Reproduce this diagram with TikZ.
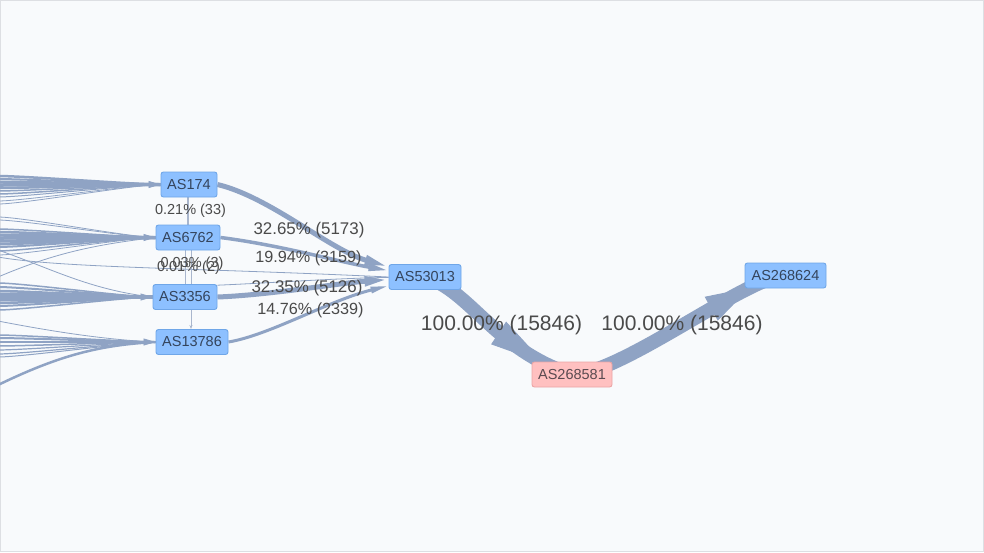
\documentclass[tikz,border=0pt]{standalone}
\usepackage{fontspec}
\setmainfont{Liberation Sans}
\usepackage{tikz}
\usetikzlibrary{arrows.meta, backgrounds}

\definecolor{canvascol}{HTML}{F8FAFC}
\definecolor{framecol}{HTML}{DDDFE3}
\definecolor{linkcol}{HTML}{8FA3C4}
\definecolor{vlinkcol}{HTML}{A9B6CD}
\definecolor{ascol}{HTML}{8DC0FF}
\definecolor{asline}{HTML}{6FA6E8}
\definecolor{pincol}{HTML}{FFC0C0}
\definecolor{pinline}{HTML}{EBA5A5}
\definecolor{textcol}{HTML}{4A4A4A}
\definecolor{astext}{HTML}{34445C}
\definecolor{pintext}{HTML}{5A4A50}

\tikzset{
	asnode/.style={draw=asline, fill=ascol, rounded corners=2.5pt, line width=.9pt, inner sep=0pt,
		minimum height=25pt, text=astext, font=\fontsize{14.5}{16}\selectfont},
	endnode/.style={asnode, draw=pinline, fill=pincol, text=pintext},
	link/.style={draw=linkcol, line width=.8pt},
	vlink/.style={draw=vlinkcol, line width=1pt},
	flowhead/.style={link, line width=1pt, -{Triangle[length=#1, width=27pt]}},
	pct/.style={text=textcol, inner sep=0pt, font=\fontsize{14.5}{16}\selectfont},
	midpct/.style={pct, font=\fontsize{16.2}{18}\selectfont},
	widepct/.style={pct, font=\fontsize{16.9}{19}\selectfont},
	bigpct/.style={pct, font=\fontsize{21}{24}\selectfont}
}

\begin{document}
\begin{tikzpicture}[x=1pt, y=-1pt]
	\useasboundingbox (0,0) rectangle (984,552);

	\node[asnode, minimum width=56pt] (AS174) at (189,184.5) {AS174};
	\node[asnode, minimum width=64pt] (AS6762) at (188,237.5) {AS6762};
	\node[asnode, minimum width=64pt] (AS3356) at (185,297) {AS3356};
	\node[asnode, minimum width=72pt] (AS13786) at (192,342) {AS13786};
	\node[asnode, minimum width=72pt] (AS53013) at (425,277) {AS53013};
	\node[endnode, minimum width=80pt] (AS268581) at (572,374.5) {AS268581};
	\node[asnode, minimum width=81pt] (AS268624) at (785.5,275.5) {AS268624};

	\begin{scope}[on background layer]
		\fill[canvascol] (0,0) rectangle (984,552);
		\draw[framecol, line width=1pt] (.5,.5) rectangle (983.5,551.5);

		% fans coming in from the left edge
		\foreach \y/\w in {176/2.5, 179/2, 182/3, 185/3.5, 188/2.5, 191/1.5, 194/1.5, 197/1, 201/.8, 204/.8}{
			\coordinate (a\y) at (-2,\y);
			\draw[link, line width=\w pt] (a\y) to[out=0, in=180, looseness=.4] (AS174.west);
		}
		\foreach \y/\w in {217/.8, 220/.8, 229/1.5, 232/2.5, 235/3, 238/3.5, 241/3, 244/3, 247/2, 251/1.5, 255/.8}{
			\coordinate (b\y) at (-2,\y);
			\draw[link, line width=\w pt] (b\y) to[out=0, in=180, looseness=.4] (AS6762.west);
		}
		\foreach \y/\w in {283/1.5, 287/2, 291/2.5, 294/3, 297/3.5, 300/3, 303/2.5, 306/2, 310/1.5}{
			\coordinate (c\y) at (-2,\y);
			\draw[link, line width=\w pt] (c\y) to[out=0, in=180, looseness=.4] (AS3356.west);
		}
		\foreach \y/\w in {335/1.5, 338/2, 342/2.5, 346/1.5, 350/1.2, 354/1.2, 357/1}{
			\coordinate (d\y) at (-2,\y);
			\draw[link, line width=\w pt] (d\y) to[out=0, in=180, looseness=.4] (AS13786.west);
		}
		\coordinate (e1) at (-2,277);
		\coordinate (e2) at (-2,257);
		\coordinate (e3) at (-2,321);
		\coordinate (e4) at (-2,385);
		\coordinate (e5) at (-2,250);
		\draw[link] (e1) .. controls (50,255) and (90,245) .. (AS6762.west);
		\draw[link] (e2) .. controls (60,268) and (200,268) .. (AS53013.west);
		\draw[link] (e5) .. controls (50,268) and (90,290) .. (AS3356.west);
		\draw[link] (e3) .. controls (60,333) and (110,340) .. (AS13786.west);
		\draw[link, line width=2.5pt] (e4) .. controls (60,355) and (100,345) .. (AS13786.west);

		% arrow heads at the end of the fans
		\foreach \n in {AS174, AS6762, AS3356, AS13786}{
			\draw[link, -{Triangle[length=12pt, width=7pt]}] (\n.west) ++(-14,0) -- (\n.west);
		}

		% between the four upstream nodes
		\draw[vlink, line width=2.5pt] (AS174.south -| 188,0) -- (AS6762.north -| 188,0);
		\draw[vlink] (AS6762.south -| 185,0) -- (AS3356.north -| 185,0);
		\draw[vlink, -{Stealth[length=4pt]}] (AS6762.south -| 191,0) -- (AS13786.north -| 191,0);

		% into AS53013
		\draw[link, line width=5pt, -{Triangle[length=24pt, width=9pt]}] (AS174.east) .. controls (270,197) and (330,250) .. (AS53013);
		\draw[link, line width=3.5pt, -{Triangle[length=20pt, width=7pt]}] (AS6762.east) .. controls (280,245) and (340,262) .. (AS53013);
		\draw[link, line width=5pt, -{Triangle[length=24pt, width=9pt]}] (AS3356.east) .. controls (270,295) and (340,283) .. (AS53013);
		\draw[link] (AS3356.20) .. controls (270,283) and (340,278) .. (AS53013);
		\draw[link, line width=3pt, -{Triangle[length=18pt, width=6pt]}] (AS13786.east) .. controls (270,335) and (330,300) .. (AS53013);

		% the two wide flows
		\draw[link, line width=14pt] (AS53013.center) .. controls (470,290) and (495,350) .. (AS268581.center)
			coordinate[pos=.62] (flowa1) coordinate[pos=.87] (flowa2);
		\draw[flowhead=55pt] (flowa1) -- (flowa2);
		\draw[link, line width=14pt] (AS268581.center) .. controls (620,375) and (749,275) .. (AS268624.center)
			coordinate[pos=.6] (flowb1) coordinate[pos=.78] (flowb2);
		\draw[flowhead=44pt] (flowb1) -- (flowb2);
	\end{scope}

	\node[pct] (l174) at (190.5,211) {0.21\% (33)};
	\node[pct] (l6762a) at (192,264) {0.03\% (3)};
	\node[pct] (l6762b) at (188.5,268) {0.01\% (2)};
	\node[widepct] (l1) at (309,230) {32.65\% (5173)};
	\node[midpct] (l2) at (308.5,258) {19.94\% (3159)};
	\node[widepct] (l3) at (307,288) {32.35\% (5126)};
	\node[midpct] (l4) at (310.5,310) {14.76\% (2339)};
	\node[bigpct] (l5) at (501.5,325) {100.00\% (15846)};
	\node[bigpct] (l6) at (682,325) {100.00\% (15846)};
\end{tikzpicture}
\end{document}
